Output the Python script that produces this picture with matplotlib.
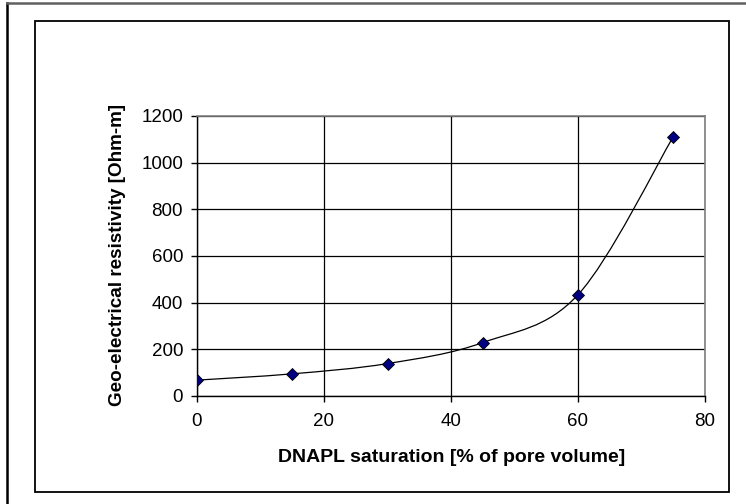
import matplotlib
matplotlib.use("Agg")
import matplotlib.pyplot as plt
from matplotlib.path import Path
from matplotlib.patches import PathPatch
from matplotlib.lines import Line2D
import numpy as np

# Data
saturation = [0, 15, 30, 45, 60, 75]
resistivity = [68, 95, 139, 229, 434, 1111]
x_ticks = [0, 20, 40, 60, 80]
y_ticks = [0, 200, 400, 600, 800, 1000, 1200]
x_label = "DNAPL saturation [% of pore volume]"
y_label = "Geo-electrical resistivity [Ohm-m]"

plt.rcParams['font.family'] = ['Liberation Sans', 'DejaVu Sans']

W, H = 746, 504
fig = plt.figure(figsize=(W / 100, H / 100), dpi=100)

def fx(px):
    return px / W

def fy(py):
    return 1 - py / H

ax = fig.add_axes([fx(197), fy(396), fx(705) - fx(197), fy(116) - fy(396)])
ax.set_xlim(0, 80)
ax.set_ylim(0, 1200)
ax.set_xticks(x_ticks)
ax.set_yticks(y_ticks)
ax.grid(True, color='black', linewidth=0.9)
ax.set_axisbelow(True)
for s in ['top', 'right']:
    ax.spines[s].set_color('#808080')
    ax.spines[s].set_linewidth(1.2)
for s in ['left', 'bottom']:
    ax.spines[s].set_color('black')
    ax.spines[s].set_linewidth(1.0)
ax.tick_params(axis='both', direction='out', length=4, width=1.0, labelsize=13.5, colors='black')
ax.tick_params(axis='x', pad=8)
ax.tick_params(axis='y', pad=6)

# Smoothed line (Excel-style Catmull-Rom Bezier)
pts = np.column_stack([saturation, resistivity]).astype(float)
n = len(pts)
verts = [tuple(pts[0])]
codes = [Path.MOVETO]
for i in range(n - 1):
    p0 = pts[i - 1] if i > 0 else pts[i]
    p1 = pts[i]
    p2 = pts[i + 1]
    p3 = pts[i + 2] if i + 2 < n else pts[i + 1]
    c1 = p1 + (p2 - p0) / 6.0
    c2 = p2 - (p3 - p1) / 6.0
    verts += [tuple(c1), tuple(c2), tuple(p2)]
    codes += [Path.CURVE4] * 3
patch = PathPatch(Path(verts, codes), facecolor='none', edgecolor='black', linewidth=0.9, zorder=3)
ax.add_patch(patch)
ax.plot(saturation, resistivity, linestyle='none', marker='D', markersize=6.5,
        markerfacecolor='#000080', markeredgecolor='black', markeredgewidth=0.6, zorder=4)

fig.text(fx(451.5), fy(458), x_label, ha='center', va='center', fontsize=14, fontweight='bold')
fig.text(fx(118), fy(255), y_label, ha='center', va='center', rotation=90, fontsize=13.6, fontweight='bold')

# Frames
fig.add_artist(plt.Rectangle((fx(34.5), fy(491.5)), fx(729) - fx(34.5), fy(20.5) - fy(491.5),
                             transform=fig.transFigure, fill=False, edgecolor='black', linewidth=1.3))
fig.add_artist(Line2D([fx(7), fx(7)], [fy(3), 0], transform=fig.transFigure, color='black', linewidth=1.8))
fig.add_artist(Line2D([fx(7), 1], [fy(3), fy(3)], transform=fig.transFigure, color='#606060', linewidth=1.8))

fig.savefig("out.png", dpi=100)
